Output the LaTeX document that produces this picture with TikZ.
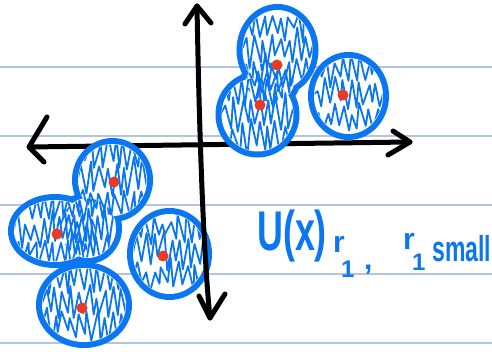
\documentclass[tikz,border=0pt]{standalone}
\usepackage{fontspec}
\newfontfamily\handfont{Liberation Sans}
\definecolor{ink}{RGB}{10,118,242}
\definecolor{dotred}{RGB}{232,58,38}
\definecolor{ruling}{RGB}{178,196,222}
\tikzset{
  ruleline/.style={ruling, line width=1.1pt},
  axisline/.style={black, line width=5pt, line cap=round, line join=round},
  outl/.style={ink, line width=12pt},
  scrib/.style={ink, line width=1.8pt, line join=round, line cap=round},
  seeddot/.style={dotred},
  hand/.style={ink, inner sep=0pt, anchor=base west},
}
% zig-zag hatching clipped to an ellipse: cx, cy, rx, ry
\newcommand\hatchblob[4]{%
  \begin{scope}
    \clip (#1,#2) circle[x radius=#3-0.5, y radius=#4-0.5];
    \foreach \row in {-26,-2,22}{
      \draw[scrib] ({#1-#3},{#2+\row})
        \foreach \k in {1,...,22}{ -- ({#1-#3+\k*4.2+rand*2},{#2+\row+(12+rand*4)*(1-2*mod(\k,2))+rand*6}) };
    }
  \end{scope}}
% merged group of blobs: outline, white inside, hatching
\newcommand\blobgroup[1]{%
  \foreach \cx/\cy/\rx/\ry in {#1} \draw[outl] (\cx,\cy) circle[x radius=\rx, y radius=\ry];
  \foreach \cx/\cy/\rx/\ry in {#1} \fill[white] (\cx,\cy) circle[x radius=\rx, y radius=\ry];
  \foreach \cx/\cy/\rx/\ry in {#1} \hatchblob{\cx}{\cy}{\rx}{\ry};
}
\begin{document}
\begin{tikzpicture}[x=1pt,y=-1pt]
  \pgfmathsetseed{7}
  \fill[white] (0,0) rectangle (492,352);
  \useasboundingbox (0,0) rectangle (492,352);
  % ruled paper
  \foreach \yy in {67,136,205,274,343} \draw[ruleline] (0,\yy) -- (492,\yy);
  % horizontal axis
  \coordinate (xl) at (29,147);
  \coordinate (xr) at (410,142);
  \draw[axisline] (xl) -- (xr);
  \draw[axisline] (47,117) -- (xl) -- (44,162);
  \draw[axisline] (393,131) -- (xr) -- (388,155);
  % upper cluster
  \blobgroup{277.5/50/35/40, 270/82/24/20, 257.5/114.5/36/37}
  \fill[seeddot] (277,65) circle[radius=5.5];
  \fill[seeddot] (260,105) circle[radius=5.5];
  \blobgroup{348.5/96/34.5/38}
  \fill[seeddot] (343,95) circle[radius=5.5];
  % lower cluster
  \blobgroup{112.5/180/34.5/36, 55/231/41/31, 88/228/28/30, 84/305/42/37}
  \fill[seeddot] (114,182) circle[radius=5.5];
  \fill[seeddot] (57,234) circle[radius=5.5];
  \fill[seeddot] (82,308) circle[radius=5.5];
  \blobgroup{169.5/254/36.5/40}
  \fill[seeddot] (163,256) circle[radius=5.5];
  % vertical axis
  \coordinate (yt) at (197,6);
  \coordinate (yb) at (210,318);
  \draw[axisline] (yt) .. controls (199,120) and (203,250) .. (yb);
  \draw[axisline] (185,24) -- (yt) -- (211,23);
  \draw[axisline] (199,296) -- (yb) -- (225,294);
  % label
  \node[hand, font={\handfont\bfseries\fontsize{56}{60}\selectfont}] (lu) at (257,251) {\scalebox{0.64}[1]{U(x)}};
  \node[hand, font={\handfont\bfseries\fontsize{30}{32}\selectfont}] (lr1) at (333,253) {r};
  \node[hand, font={\handfont\bfseries\fontsize{24}{26}\selectfont}] (l11) at (341,278) {1};
  \node[hand, font={\handfont\bfseries\fontsize{30}{32}\selectfont}] (lc) at (364,270) {,};
  \node[hand, font={\handfont\bfseries\fontsize{30}{32}\selectfont}] (lr2) at (403,250) {r};
  \node[hand, font={\handfont\bfseries\fontsize{24}{26}\selectfont}] (l12) at (412,271) {1};
  \node[hand, font={\handfont\bfseries\fontsize{36}{38}\selectfont}] (ls) at (432,262) {\scalebox{0.64}[1]{small}};
\end{tikzpicture}
\end{document}
